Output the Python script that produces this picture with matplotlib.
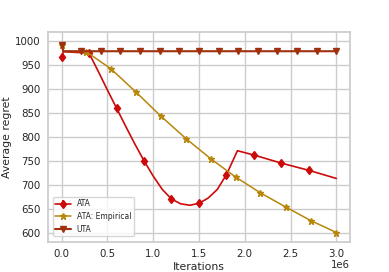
import matplotlib
matplotlib.use("Agg")
import matplotlib.pyplot as plt
import seaborn as sns
import numpy as np

# ATA (x in iterations)
ata_x = [0, 0.02e6, 0.3e6, 0.4e6, 0.5e6, 0.6e6, 0.7e6, 0.8e6, 0.9e6, 1.0e6, 1.1e6, 1.2e6,
         1.3e6, 1.4e6, 1.5e6, 1.6e6, 1.7e6, 1.8e6, 1.92e6, 2.1e6, 2.4e6, 2.7e6, 3.0e6]
ata_y = [967, 978, 975, 937, 898, 860, 822, 785, 750, 718, 690, 670,
         660, 657, 661, 672, 690, 721, 771, 762, 745, 730, 713]
ata_err = [6, 0, 6, 0, 0, 6, 0, 0, 6, 0, 0, 6,
           0, 0, 6, 0, 0, 6, 0, 6, 6, 6, 0]
ata_marks = [0, 2, 5, 8, 11, 14, 17, 19, 20, 21]

# ATA: Empirical
emp_x = [0, 0.02e6, 0.27e6, 0.54e6, 0.81e6, 1.08e6, 1.36e6, 1.63e6, 1.90e6, 2.17e6, 2.45e6, 2.72e6, 3.0e6]
emp_y = [992, 979, 978, 942, 894, 844, 796, 754, 716, 683, 653, 625, 600]

# UTA
uta_x = [0, 0.02e6, 0.214e6, 0.429e6, 0.643e6, 0.857e6, 1.071e6, 1.286e6, 1.5e6, 1.714e6,
         1.929e6, 2.143e6, 2.357e6, 2.571e6, 2.786e6, 3.0e6]
uta_y = [992, 979, 979, 979, 979, 979, 979, 979, 979, 979, 979, 979, 979, 979, 979, 979]
uta_marks = [0, 2, 3, 4, 5, 6, 7, 8, 9, 10, 11, 12, 13, 14, 15]

sns.set_theme(style="whitegrid")
plt.rcParams['font.family'] = ['DejaVu Sans']

fig = plt.figure(figsize=(3.89, 2.72), dpi=100)
ax = fig.add_axes([0.123, 0.110, 0.777, 0.772])

c_ata = "#cc0a0a"
c_emp = "#b8860b"
c_uta = "#a0300e"

ax.errorbar(ata_x, ata_y, yerr=ata_err, color=c_ata, marker='d', markersize=4.5,
            markevery=ata_marks, lw=1.2, elinewidth=1.2, label="ATA")
ax.errorbar(emp_x, emp_y, color=c_emp, marker='*', markersize=4.5,
            markevery=list(range(2, len(emp_x))) + [0], lw=1.1, label="ATA: Empirical")
ax.errorbar(uta_x, uta_y, color=c_uta, marker='v', markersize=4.5,
            markevery=uta_marks, lw=1.5, label="UTA")

ax.set_ylim(580, 1019)
ax.tick_params(labelsize=7.4, length=0, pad=5)

ax.set_xlabel("Iterations", fontsize=7.8)
ax.xaxis.label.set_va('baseline')
ax.xaxis.set_label_coords(0.5, -0.133)

ax.set_ylabel("Average regret", fontsize=7.8)
ax.yaxis.set_label_coords(-0.118, 0.5)

ax.xaxis.get_offset_text().set_visible(False)
fig.text(350 / 389, 4 / 272, "1e6", ha='right', va='baseline', fontsize=7.3,
         color=plt.rcParams['xtick.color'])

ax.legend(loc="lower left", fontsize=5.5, frameon=True, borderpad=0.3,
          bbox_to_anchor=(0.005, 0.01))

fig.savefig("out.png", dpi=100)
